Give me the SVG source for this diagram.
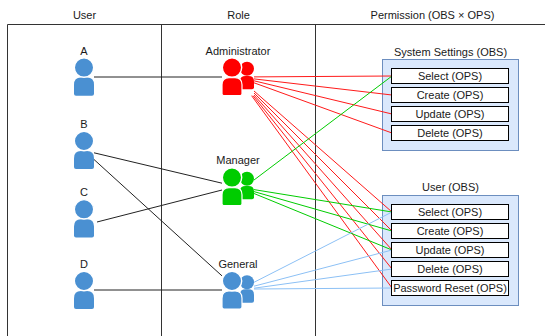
<svg xmlns="http://www.w3.org/2000/svg" xmlns:xlink="http://www.w3.org/1999/xlink" width="545" height="336" viewBox="0 0 545 336">
<style>
text{font-family:"Liberation Sans",Arial,sans-serif;font-size:11px;fill:#1a1a1a;text-anchor:middle}
.grid{stroke:#333;stroke-width:1;fill:none}
.cont{fill:#dae8fc;stroke:#6c8ebf;stroke-width:1}
.box{fill:#fff;stroke:#000;stroke-width:1}
.k{stroke:#222;stroke-width:1;fill:none}
.r{stroke:#ff1a1a;stroke-width:1;fill:none}
.g{stroke:#00cc00;stroke-width:1;fill:none}
.b{stroke:#8cc0f5;stroke-width:1;fill:none}
.ublue{fill:#4a90d2}
</style>
<defs>
<g id="person">
<path d="M0,35.4 V26.5 Q0,19.3 7,19.3 H13 Q20,19.3 20,26.5 V35.4 Q20,37.4 18,37.4 H2 Q0,37.4 0,35.4 Z"/>
<circle cx="10" cy="9.3" r="9.7" stroke="#fff" stroke-width="1.4"/>
</g>
<g id="group">
<circle cx="25" cy="10.5" r="7"/>
<path d="M18,29 V23 Q18,17.6 23.5,17.6 H26.5 Q32,17.6 32,23 V29 Q32,31 30,31 H20 Q18,31 18,29 Z"/>
<path d="M0,35.4 V26.5 Q0,19.3 7,19.3 H13 Q20,19.3 20,26.5 V35.4 Q20,37.4 18,37.4 H2 Q0,37.4 0,35.4 Z" stroke="#fff" stroke-width="1.2"/>
<circle cx="10" cy="9.3" r="9.7" stroke="#fff" stroke-width="1.4"/>
</g>
</defs>

<g id="table">
<path class="grid" d="M7.5,24.5 H545 M7.5,24.5 V336 M161.5,24.5 V336 M315.5,24.5 V336"/>
<text x="84.5" y="18.5">User</text>
<text x="238.5" y="18.5">Role</text>
<text x="432.5" y="18.5">Permission (OBS × OPS)</text>
</g>

<g id="obs-system-settings">
<rect class="cont" x="382.5" y="59.5" width="136" height="91"/>
<text x="450.5" y="55.5">System Settings (OBS)</text>
</g>
<g id="obs-user">
<rect class="cont" x="382.5" y="195.5" width="136" height="110"/>
<text x="450.5" y="190.5">User (OBS)</text>
</g>

<g id="connectors">
<path class="k" d="M94,77 H222"/>
<path class="k" d="M94,152.8 L222,183.2"/>
<path class="k" d="M94,159.5 L222,275.9"/>
<path class="k" d="M97,222 L222,190"/>
<path class="k" d="M94,290 H222"/>

<path class="r" d="M254,76.9 L392,76"/>
<path class="r" d="M254,78.9 L392,95"/>
<path class="r" d="M254,80.8 L392,114"/>
<path class="r" d="M254,82.8 L392,133"/>
<path class="r" d="M254,91 L392,212"/>
<path class="r" d="M254,93 L392,231"/>
<path class="r" d="M254,95 L392,250"/>
<path class="r" d="M253,95.7 L392,269"/>
<path class="r" d="M251.6,95.7 L392,288"/>

<path class="g" d="M254,180 L392,76"/>
<path class="g" d="M254,189.6 L392,212"/>
<path class="g" d="M254,191.6 L392,231"/>
<path class="g" d="M254,193.5 L392,250"/>

<path class="b" d="M254,282.3 L392,212"/>
<path class="b" d="M254,286.2 L392,250"/>
<path class="b" d="M254,288.2 L392,269"/>
<path class="b" d="M254,289 L392,288"/>
</g>

<g id="ss-select"><rect class="box" x="391.5" y="68.5" width="117" height="15"/><text x="450" y="80">Select (OPS)</text></g>
<g id="ss-create"><rect class="box" x="391.5" y="87.5" width="117" height="15"/><text x="450" y="99">Create (OPS)</text></g>
<g id="ss-update"><rect class="box" x="391.5" y="106.5" width="117" height="15"/><text x="450" y="118">Update (OPS)</text></g>
<g id="ss-delete"><rect class="box" x="391.5" y="125.5" width="117" height="15"/><text x="450" y="137">Delete (OPS)</text></g>

<g id="u-select"><rect class="box" x="391.5" y="204.5" width="117" height="15"/><text x="450" y="216">Select (OPS)</text></g>
<g id="u-create"><rect class="box" x="391.5" y="223.5" width="117" height="15"/><text x="450" y="235">Create (OPS)</text></g>
<g id="u-update"><rect class="box" x="391.5" y="242.5" width="117" height="15"/><text x="450" y="254">Update (OPS)</text></g>
<g id="u-delete"><rect class="box" x="391.5" y="261.5" width="117" height="15"/><text x="450" y="273">Delete (OPS)</text></g>
<g id="u-password-reset"><rect class="box" x="391.5" y="280.5" width="117" height="15"/><text x="450" y="292">Password Reset (OPS)</text></g>

<g id="user-a"><text x="84" y="54.5">A</text><use xlink:href="#person" href="#person" x="74" y="58.3" class="ublue"/></g>
<g id="user-b"><text x="84" y="127.5">B</text><use xlink:href="#person" href="#person" x="74" y="131.7" class="ublue"/></g>
<g id="user-c"><text x="84" y="196">C</text><use xlink:href="#person" href="#person" x="74" y="200" class="ublue"/></g>
<g id="user-d"><text x="84" y="267.5">D</text><use xlink:href="#person" href="#person" x="74" y="271.7" class="ublue"/></g>

<g id="role-administrator"><text x="238" y="54.5">Administrator</text><use xlink:href="#group" href="#group" x="222" y="58.3" fill="#ff0000"/></g>
<g id="role-manager"><text x="238" y="164">Manager</text><use xlink:href="#group" href="#group" x="222" y="168.3" fill="#00cc00"/></g>
<g id="role-general"><text x="238" y="267.5">General</text><use xlink:href="#group" href="#group" x="222" y="271.7" class="ublue"/></g>
</svg>
